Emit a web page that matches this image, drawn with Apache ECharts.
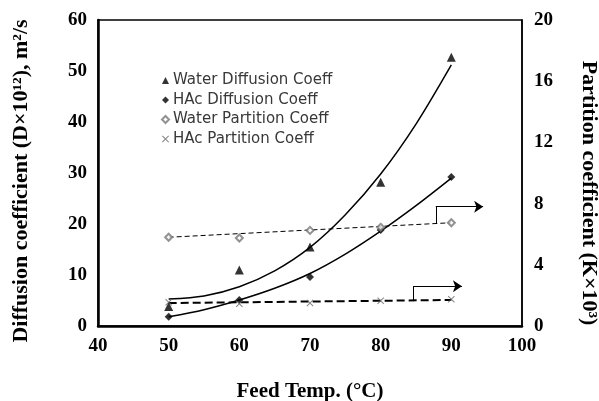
<!DOCTYPE html>
<html>
<head>
<meta charset="utf-8">
<script src="https://cdn.jsdelivr.net/npm/echarts@6/dist/echarts.min.js"></script>
<style>
  html, body { margin: 0; padding: 0; background: #fff; }
  #chart { width: 599px; height: 401px; }
</style>
</head>
<body>
<div id="chart"></div>
<script>
// feed temperatures (°C)
const temps = [50, 60, 70, 80, 90]

// diffusion coefficients, D x 10^12 m2/s (left axis)
const waterDiff = [3.8, 11, 15.5, 28.2, 52.7]
const hacDiff = [1.8, 5.1, 9.6, 18.8, 29.2]

// partition coefficients, K x 10^3 (right axis)
const waterPart = [5.8, 5.75, 6.25, 6.45, 6.75]
const hacPart = [1.55, 1.45, 1.5, 1.65, 1.75]

// trend lines
const trendTemps = [50, 55, 60, 65, 70, 75, 80, 85, 90]
const waterDiffTrend = [5.3, 5.9, 7.7, 10.8, 15.4, 21.8, 29.8, 39.6, 51.2]
const hacDiffTrend = [1.8, 3.2, 5.1, 7.4, 10.3, 14.1, 18.6, 23.6, 29]
const partTrendTemps = [50, 90]
const waterPartTrend = [5.8, 6.75]
const hacPartTrend = [1.5, 1.7]

// "read on right axis" arrows, in right-axis data units: stem, then arrow
const waterArrowStem = [[87.8, 6.73], [87.8, 7.8]]
const waterArrowHead = [[87.8, 7.8], [94.5, 7.8]]
const hacArrowStem = [[84.6, 1.62], [84.6, 2.6]]
const hacArrowHead = [[84.6, 2.6], [91.5, 2.6]]

const xTicks = { min: 40, max: 100, interval: 10 }
const leftTicks = { min: 0, max: 60, interval: 10 }
const rightTicks = { min: 0, max: 20, interval: 4 }

const serif = "'Liberation Serif', 'Times New Roman', serif"
const crossPath = 'path://M0,1L1,0L5,4L9,0L10,1L6,5L10,9L9,10L5,6L1,10L0,9L4,5Z'

const pairs = (xs, ys) => xs.map((x, i) => [x, ys[i]])

const chart = echarts.init(document.getElementById('chart'))

const tickLabel = { color: '#000', fontFamily: serif, fontWeight: 'bold', fontSize: 19 }
const axisName = { color: '#000', fontFamily: serif, fontWeight: 'bold', fontSize: 21 }

function arrowSeries(name, coords, withHead) {
  return {
    name,
    type: 'lines',
    coordinateSystem: 'cartesian2d',
    yAxisIndex: 1,
    symbol: withHead ? ['none', 'arrow'] : ['none', 'none'],
    symbolSize: 9,
    lineStyle: { color: '#000', width: 1, opacity: 1, curveness: 0 },
    data: [{ coords }],
    z: 2,
  }
}

chart.setOption({
  animation: false,
  grid: {
    left: 98, right: 77, top: 20, bottom: 75,
    outerBoundsMode: 'none',
    containLabel: false,
    show: true, borderColor: '#000', borderWidth: 1.5, backgroundColor: 'transparent',
  },
  legend: {
    orient: 'vertical',
    left: 156,
    top: 68,
    itemWidth: 7,
    itemHeight: 7,
    itemGap: 4.5,
    textStyle: { color: '#383838', fontFamily: "'DejaVu Sans', sans-serif", fontSize: 15, padding: [0, 0, 0, -1] },
    data: ['Water Diffusion Coeff', 'HAc Diffusion Coeff', 'Water Partition Coeff', 'HAc Partition Coeff'],
  },
  xAxis: {
    type: 'value',
    ...xTicks,
    name: 'Feed Temp. (°C)',
    nameLocation: 'middle',
    nameGap: 55,
    nameTextStyle: axisName,
    axisLine: { show: true, lineStyle: { color: '#000', width: 2.5 } },
    axisTick: { show: false },
    splitLine: { show: false },
    axisLabel: { ...tickLabel, margin: 11 },
  },
  yAxis: [
    {
      type: 'value',
      ...leftTicks,
      position: 'left',
      name: 'Diffusion coefficient (D×10¹²), m²/s',
      nameLocation: 'middle',
      nameGap: 66,
      nameTextStyle: { ...axisName, fontSize: 22, padding: [0, 16, 0, 0] },
      axisLine: { show: true, lineStyle: { color: '#000', width: 2.5 } },
      axisTick: { show: false },
      splitLine: { show: false },
      axisLabel: { ...tickLabel, margin: 11 },
    },
    {
      type: 'value',
      ...rightTicks,
      position: 'right',
      name: 'Partition coefficient (K×10³)',
      nameLocation: 'middle',
      nameRotate: -90,
      nameGap: 56,
      nameTextStyle: { ...axisName, fontSize: 22, padding: [0, 0, 0, 40] },
      axisLine: { show: true, lineStyle: { color: '#000', width: 1.5 } },
      axisTick: { show: false },
      splitLine: { show: false },
      axisLabel: { ...tickLabel, margin: 12 },
    },
  ],
  series: [
    {
      name: 'Water Diffusion Trend',
      type: 'line',
      data: pairs(trendTemps, waterDiffTrend),
      smooth: 0.3,
      symbol: 'none',
      lineStyle: { color: '#000', width: 1.5 },
      z: 2,
    },
    {
      name: 'HAc Diffusion Trend',
      type: 'line',
      data: pairs(trendTemps, hacDiffTrend),
      smooth: 0.3,
      symbol: 'none',
      lineStyle: { color: '#000', width: 1.5 },
      z: 2,
    },
    {
      name: 'Water Partition Trend',
      type: 'line',
      yAxisIndex: 1,
      data: pairs(partTrendTemps, waterPartTrend),
      symbol: 'none',
      lineStyle: { color: '#000', width: 1, type: [5, 3] },
      z: 2,
    },
    {
      name: 'HAc Partition Trend',
      type: 'line',
      yAxisIndex: 1,
      data: pairs(partTrendTemps, hacPartTrend),
      symbol: 'none',
      lineStyle: { color: '#000', width: 2, type: [8, 4] },
      z: 2,
    },
    {
      name: 'Water Diffusion Coeff',
      type: 'scatter',
      data: pairs(temps, waterDiff),
      symbol: 'triangle',
      symbolSize: 9,
      itemStyle: { color: '#000' },
      z: 3,
    },
    {
      name: 'HAc Diffusion Coeff',
      type: 'scatter',
      data: pairs(temps, hacDiff),
      symbol: 'diamond',
      symbolSize: 8,
      itemStyle: { color: '#000' },
      z: 3,
    },
    {
      name: 'Water Partition Coeff',
      type: 'scatter',
      yAxisIndex: 1,
      data: pairs(temps, waterPart),
      symbol: 'emptyDiamond',
      symbolSize: 7,
      itemStyle: { color: '#777', borderWidth: 0.8 },
      z: 3,
    },
    {
      name: 'HAc Partition Coeff',
      type: 'scatter',
      yAxisIndex: 1,
      data: pairs(temps, hacPart),
      symbol: crossPath,
      symbolSize: 7,
      itemStyle: { color: '#666' },
      z: 3,
    },
    arrowSeries('Water Arrow Stem', waterArrowStem, false),
    arrowSeries('Water Arrow Head', waterArrowHead, true),
    arrowSeries('HAc Arrow Stem', hacArrowStem, false),
    arrowSeries('HAc Arrow Head', hacArrowHead, true),
  ],
})
</script>
</body>
</html>
